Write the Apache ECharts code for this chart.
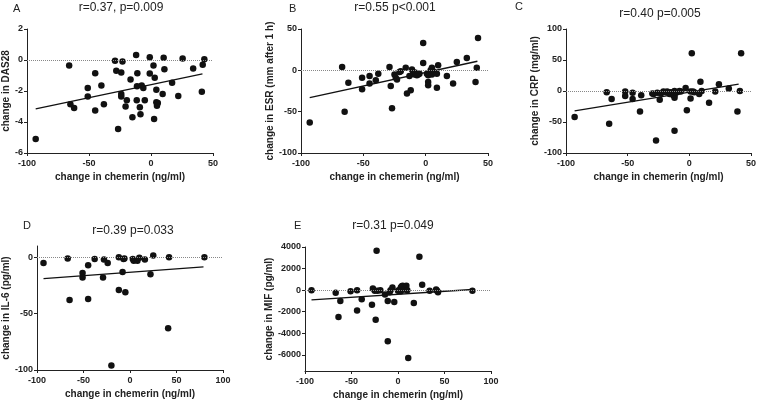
<!DOCTYPE html>
<html>
<head>
<meta charset="utf-8">
<script src="https://cdn.jsdelivr.net/npm/echarts@6/dist/echarts.min.js"></script>
<style>
html,body{margin:0;padding:0;background:#fff;}
#chart{width:759px;height:403px;}
</style>
</head>
<body>
<div id="chart"></div>
<script>
// ---------- data ----------
const panelLetters = ['A', 'B', 'C', 'D', 'E'];
const panelTitles = ['r=0.37, p=0.009', 'r=0.55 p<0.001', 'r=0.40 p=0.005', 'r=0.39 p=0.033', 'r=0.31 p=0.049'];
const xAxisTitle = 'change in chemerin (ng/ml)';
const yAxisTitles = ['change in DAS28', 'change in ESR (mm after 1 h)', 'change in CRP (mg/ml)', 'change in IL-6 (pg/ml)', 'change in MIF (pg/ml)'];

const ptsA = [[-93,-5.1],[-66,-0.35],[-65,-2.85],[-62,-3.1],[-51,-1.8],[-51,-2.35],[-45,-0.85],[-45,-3.25],[-40,-1.65],[-38,-2.85],
  [-29,-0.05],[-28,-0.7],[-23,-0.1],[-24,-0.8],[-24,-2.2],[-24,-2.35],[-26.5,-4.45],[-19.5,-2.6],[-20.5,-3.0],[-16.5,-1.25],
  [-15,-3.7],[-12,0.33],[-11,-0.85],[-11.3,-1.7],[-11.5,-2.6],[-9,-3.05],[-8.5,-3.5],[-7.5,-1.65],[-6.2,-1.8],[-5,-2.6],
  [-1,0.18],[-1,-0.87],[2,-0.35],[3,-1.15],[2.5,-3.8],[4.3,-1.92],[4.3,-2.72],[4.8,-2.95],[5.5,-2.78],[9.4,-2.2],
  [10.2,0.15],[10.8,-0.6],[17,-1.47],[22,-2.32],[25.5,0.1],[34,-0.55],[41,-2.05],[41.7,-0.3],[43,0.05]];
const fitA = [[-93,-3.15],[41.5,-0.9]];

const ptsB = [[-93,-63],[-67,4],[-65,-50],[-62,-15],[-51,-9],[-51,-23],[-45,-7],[-45,-16],[-40,-12],[-38,-4],
  [-29,4],[-28,-19],[-27,-46],[-25,-5],[-24,-9],[-23,-11],[-21,-2],[-20,-1],[-16,3],[-15,-28],
  [-12,-24],[-13,-7],[-11,1],[-10,-2],[-9,-5],[-8,-3],[-7,-6],[-6,-5],[-5,-4],[-2,33],
  [-2,9],[1,-4],[2,-6],[2,-14],[2,-18],[3,-3],[4,0],[5,3],[5,-5],[6,-1],
  [9,-21],[9,-4],[10,6],[17,-7],[22,-16],[25,10],[33,15],[40,-14],[41,3],[42,39]];
const fitB = [[-93,-33],[41.5,11]];

const ptsC = [[-93,-42],[-67,-2],[-65,-53],[-63,-13],[-52,-1],[-52,-8],[-46,-3],[-46,-13],[-39,-7],[-40,-33],
  [-30,-4],[-29,-5],[-27,-80],[-26,-3],[-24,-14],[-23,-4],[-21,-1],[-19,-2],[-18,-1],[-16,-5],
  [-15,-2],[-13,-7],[-12,0],[-12,-7],[-12,-64],[-12,-11],[-10,-2],[-8,0],[-7,-1],[-3,5],
  [-2,-31],[2,61],[1,-12],[1,-1],[3,-1],[4,-2],[9,15],[8,-5],[10,0],[16,-19],
  [21,-1],[24,11],[32,4],[39,-33],[41,0],[42,61]];
const fitC = [[-93,-32],[40,11]];

const ptsD = [[-93,-5],[-67,-1],[-65,-38],[-51,-14],[-51,-18],[-45,-7],[-45,-37],[-38,-1.5],[-29,-18],[-28,-2],
  [-24,-5],[-20,-96],[-12,0],[-12,-29],[-8,-13],[-7,-1.5],[-6,-1],[-5,-31],[3,-1.5],[4,-3],
  [8,-3],[10,-0.5],[16,-2],[22,-15],[25,1.5],[41,-63],[42,0],[80,0]];
const fitD = [[-93,-19],[79,-8.5]];

const ptsE = [[-93,0],[-67,-250],[-64,-2500],[-62,-1000],[-51,-100],[-44,0],[-44,-1900],[-39,-850],[-28,-1350],[-27,150],
  [-25,-50],[-23,3650],[-24,-2750],[-22,-50],[-19,0],[-14,-400],[-11,-1000],[-11,-4750],[-9,-200],[-8,0],
  [-6,250],[-4,-1100],[0,-50],[1,0],[3,250],[4,350],[5,400],[3,-100],[7,50],[9,400],
  [10,0],[11,-6300],[17,-1200],[23,3100],[26,500],[34,-50],[41,50],[42,-50],[43,-200],[80,-50]];
const fitE = [[-93,-910],[80,60]];

const xRanges = [[-100,50],[-100,50],[-100,50],[-100,100],[-100,100]];
const yRanges = [[-6,2],[-100,50],[-100,100],[-100,10],[-7500,4000]];
const yTickValues = [[-6,-4,-2,0,2],[-100,-50,0,50],[-100,-50,0,50,100],[-100,-50,0],[-6000,-4000,-2000,0,2000,4000]];
const xTickValues = [[-100,-50,0,50],[-100,-50,0,50],[-100,-50,0,50],[-100,-50,0,50,100],[-100,-50,0,50,100]];

// ---------- layout ----------
const allPts = [ptsA, ptsB, ptsC, ptsD, ptsE];
const allFits = [fitA, fitB, fitC, fitD, fitE];
const grids = [
  {left: 27, top: 29, width: 186, height: 124},
  {left: 301, top: 29, width: 187, height: 124},
  {left: 566, top: 29, width: 186, height: 124},
  {left: 37, top: 246, width: 186, height: 124},
  {left: 305, top: 247, width: 186, height: 124}
];
const yNameGaps = [13, 23, 26, 22, 30];
const letterPos = [[13,3],[289,3],[515,1],[23,220],[294,220]];
const titlePos = [[121,2],[395,2],[660,8],[133,225],[393,220]];

const FONT = '"Liberation Sans", Arial, Helvetica, sans-serif';
const TXT = '#222';
const plain = v => String(v);

const option = {
  animation: false,
  backgroundColor: '#fff',
  title: [],
  grid: [],
  xAxis: [],
  yAxis: [],
  series: []
};

for (let i = 0; i < 5; i++) {
  option.title.push({
    text: panelLetters[i], left: letterPos[i][0], top: letterPos[i][1], padding: 0,
    textStyle: {fontFamily: FONT, fontSize: 11, fontWeight: 'normal', color: TXT}
  });
  option.title.push({
    text: panelTitles[i], left: titlePos[i][0], top: titlePos[i][1], padding: 0, textAlign: 'center',
    textStyle: {fontFamily: FONT, fontSize: 12, fontWeight: 'normal', color: TXT}
  });
  option.grid.push(Object.assign({containLabel: false}, grids[i]));
  option.xAxis.push({
    type: 'value', gridIndex: i, min: xRanges[i][0], max: xRanges[i][1],
    name: xAxisTitle, nameLocation: 'middle', nameGap: 19,
    nameTextStyle: {fontFamily: FONT, fontSize: 10, fontWeight: 'bold', color: TXT},
    splitLine: {show: false},
    axisLine: {onZero: false, lineStyle: {color: '#222', width: 1}},
    axisTick: {show: true, length: 3, customValues: xTickValues[i], lineStyle: {color: '#222'}},
    axisLabel: {customValues: xTickValues[i], formatter: plain, margin: 6, fontFamily: FONT, fontSize: 9, fontWeight: 'bold', color: TXT}
  });
  option.yAxis.push({
    type: 'value', gridIndex: i, min: yRanges[i][0], max: yRanges[i][1],
    name: yAxisTitles[i], nameLocation: 'middle', nameGap: yNameGaps[i],
    nameTextStyle: {fontFamily: FONT, fontSize: 10, fontWeight: 'bold', color: TXT},
    splitLine: {show: false},
    axisLine: {show: true, onZero: false, lineStyle: {color: '#222', width: 1}},
    axisTick: {show: true, length: 3, customValues: yTickValues[i], lineStyle: {color: '#222'}},
    axisLabel: {customValues: yTickValues[i], formatter: plain, margin: 4, fontFamily: FONT, fontSize: 9, fontWeight: 'bold', color: TXT}
  });
  option.series.push({
    type: 'scatter', xAxisIndex: i, yAxisIndex: i, data: allPts[i],
    symbolSize: 6.5, itemStyle: {color: '#111', opacity: 1},
    markLine: {
      silent: true, symbol: 'none', animation: false,
      label: {show: false},
      lineStyle: {type: 'dotted', color: '#888', width: 1},
      data: [{yAxis: 0}]
    }
  });
  option.series.push({
    type: 'line', xAxisIndex: i, yAxisIndex: i, data: allFits[i],
    symbol: 'none', lineStyle: {color: '#111', width: 1.3}, z: 3
  });
}

const chart = echarts.init(document.getElementById('chart'), null, {renderer: 'canvas'});
chart.setOption(option);
</script>
</body>
</html>
